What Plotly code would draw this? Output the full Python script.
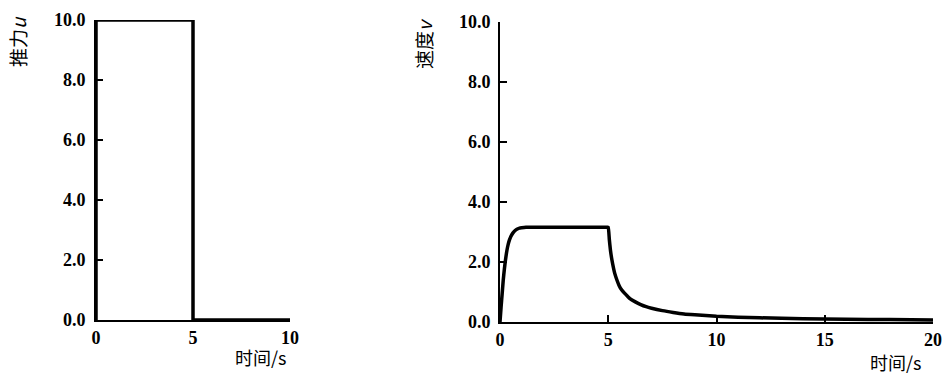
import plotly.graph_objects as go

# Data
t_u = [0, 0, 5, 5, 10]
u_vals = [0, 10, 10, 0, 0]

t_v = [0, 0.05, 0.1, 0.15, 0.2, 0.25, 0.3, 0.35, 0.4, 0.45, 0.5, 0.6, 0.7, 0.8, 0.9, 1.0, 1.2,
       1.5, 2, 3, 4, 4.95, 5,
       5.05, 5.1, 5.15, 5.2, 5.3, 5.4, 5.5, 5.6, 5.75, 5.9, 6, 6.25, 6.5, 6.75, 7, 7.5, 8, 8.5,
       9, 10, 11, 12, 14, 16, 18, 20]
v_vals = [0, 0.5, 0.95, 1.4, 1.75, 2.05, 2.3, 2.5, 2.65, 2.76, 2.85, 2.97, 3.05, 3.1, 3.13,
          3.14, 3.155, 3.16, 3.16, 3.16, 3.16, 3.16, 3.16,
          2.75, 2.4, 2.15, 1.95, 1.62, 1.4, 1.22, 1.09, 0.96, 0.85, 0.78, 0.67, 0.58, 0.51,
          0.46, 0.38, 0.32, 0.27, 0.24, 0.19, 0.16, 0.14, 0.11, 0.09, 0.08, 0.07]

y_ticks = [0, 2, 4, 6, 8, 10]
y_ticktext = ["0.0", "2.0", "4.0", "6.0", "8.0", "10.0"]
x1_ticks = [0, 5, 10]
x2_ticks = [0, 5, 10, 15, 20]

W, H = 949, 377


def px(x):
    return x / W


def py(y):
    return 1 - y / H


tickfont = dict(family="Liberation Serif", size=18, color="black", weight="bold")
cjk = "Noto Sans CJK SC"

fig = go.Figure()
fig.add_trace(go.Scatter(x=t_u, y=u_vals, mode="lines",
                         line=dict(color="black", width=3.5),
                         xaxis="x", yaxis="y", showlegend=False, cliponaxis=False))
fig.add_trace(go.Scatter(x=t_v, y=v_vals, mode="lines",
                         line=dict(color="black", width=3.5, shape="spline", smoothing=0.4),
                         xaxis="x2", yaxis="y2", showlegend=False, cliponaxis=False))

axis_common = dict(showgrid=False, zeroline=False, showline=True, linecolor="black",
                   linewidth=2, ticks="inside", ticklen=7, tickwidth=2, tickcolor="black",
                   tickfont=tickfont, automargin=False)

fig.update_layout(
    width=W, height=H,
    margin=dict(l=0, r=0, t=0, b=0, autoexpand=False),
    paper_bgcolor="white", plot_bgcolor="white",
    xaxis=dict(domain=[px(96), px(290)], range=[0, 10], tickvals=x1_ticks,
               anchor="y", ticklabelstandoff=0, **axis_common),
    yaxis=dict(domain=[py(320), py(20)], range=[0, 10], tickvals=y_ticks,
               ticktext=y_ticktext, anchor="x", ticklabelstandoff=5, **axis_common),
    xaxis2=dict(domain=[px(500), px(933)], range=[0, 20], tickvals=x2_ticks,
                anchor="y2", ticklabelstandoff=0, **axis_common),
    yaxis2=dict(domain=[py(322), py(22)], range=[0, 10], tickvals=y_ticks,
                ticktext=y_ticktext, anchor="x2", ticklabelstandoff=4, **axis_common),
    annotations=[
        dict(text="推力<i>u</i>", x=px(17), y=py(42), xref="paper", yref="paper",
             xanchor="center", yanchor="middle",
             showarrow=False, textangle=-90, font=dict(family=cjk, size=19, color="black")),
        dict(text="速度<i>v</i>", x=px(423), y=py(44), xref="paper", yref="paper",
             xanchor="center", yanchor="middle",
             showarrow=False, textangle=-90, font=dict(family=cjk, size=19, color="black")),
        dict(text="时间/s", x=px(260), y=py(357), xref="paper", yref="paper",
             xanchor="center", yanchor="middle",
             showarrow=False, font=dict(family=cjk, size=18, color="black")),
        dict(text="时间/s", x=px(895), y=py(362), xref="paper", yref="paper",
             xanchor="center", yanchor="middle",
             showarrow=False, font=dict(family=cjk, size=18, color="black")),
    ],
)

fig.write_html("out.html", config={"displayModeBar": False},
               post_script="document.body.style.margin='0';")
